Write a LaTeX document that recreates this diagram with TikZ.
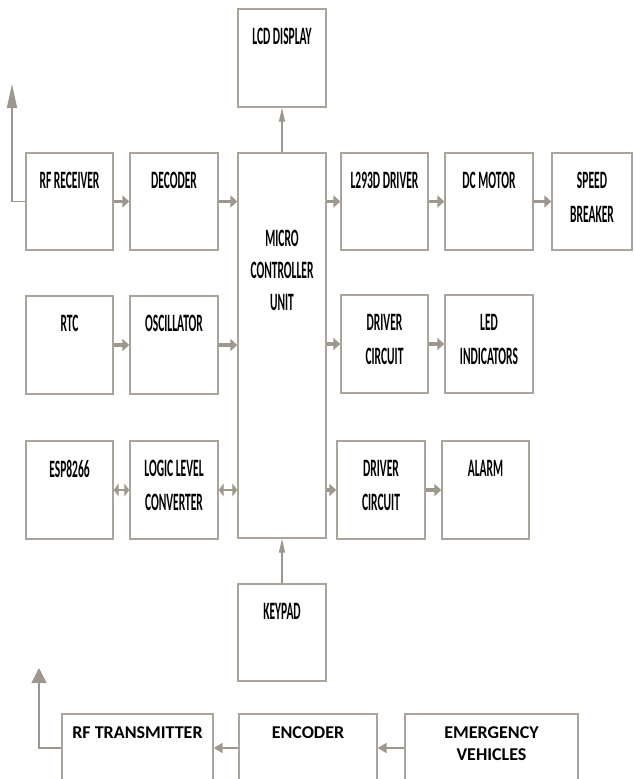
\documentclass[tikz,border=0pt]{standalone}
\usepackage{fontspec}
\setmainfont{Carlito}
\newfontfamily\condf[FakeStretch=0.46]{Carlito}
\usetikzlibrary{arrows.meta,calc}
\definecolor{boxc}{RGB}{170,164,154}
\definecolor{arrc}{RGB}{158,151,141}
\newcommand\boxlbl[4]{\node[#1] (#2t) at ($(#2.north)+(0,#3)$) {#4};}
\begin{document}
\begin{tikzpicture}[x=1pt,y=-1pt,
  blk/.style={draw=boxc, line width=1.4pt, fill=white, inner sep=0pt},
  ctxt/.style={font=\condf\bfseries\fontsize{25}{34}\selectfont, align=center, anchor=north, inner sep=0pt},
  mtxt/.style={font=\condf\bfseries\fontsize{25}{32}\selectfont, align=center, anchor=north, inner sep=0pt},
  ntxt/.style={font=\bfseries\fontsize{18}{22}\selectfont, align=center, anchor=north, inner sep=0pt},
  fat/.style={draw=arrc, line width=3.2pt, -{Triangle[length=7pt,width=12pt]}},
  dbl/.style={draw=arrc, line width=1.9pt, {Triangle[length=5pt,width=13pt]}-{Triangle[length=5pt,width=13pt]}},
  thinup/.style={draw=arrc, line width=1.3pt, -{Triangle[length=14pt,width=6pt]}},
  botar/.style={draw=arrc, line width=2.2pt, -{Triangle[length=9pt,width=10pt]}},
  antone/.style={draw=arrc, line width=1.5pt, -{Triangle[length=24pt,width=10pt]}},
  anttwo/.style={draw=arrc, line width=1.5pt, -{Triangle[length=15pt,width=15pt]}}
]
\useasboundingbox (0,0) rectangle (633,779);
% boxes
\node[blk, minimum width=88pt, minimum height=98pt] (lcd) at (282,58) {};
\node[blk, minimum width=87pt, minimum height=97pt] (rfr) at (69.5,201.5) {};
\node[blk, minimum width=88pt, minimum height=97pt] (dec) at (174,201.5) {};
\node[blk, minimum width=88pt, minimum height=385pt] (mcu) at (282,345.5) {};
\node[blk, minimum width=87pt, minimum height=97pt] (l293) at (384.5,201.5) {};
\node[blk, minimum width=88pt, minimum height=97pt] (dcm) at (489,201.5) {};
\node[blk, minimum width=80pt, minimum height=97pt] (spd) at (592,201.5) {};
\node[blk, minimum width=87pt, minimum height=98pt] (rtc) at (69.5,345) {};
\node[blk, minimum width=88pt, minimum height=98pt] (osc) at (174,345) {};
\node[blk, minimum width=87pt, minimum height=98pt] (drvone) at (384.5,344) {};
\node[blk, minimum width=88pt, minimum height=98pt] (led) at (489,344) {};
\node[blk, minimum width=87pt, minimum height=98pt] (esp) at (69.5,490) {};
\node[blk, minimum width=88pt, minimum height=98pt] (llc) at (174,490) {};
\node[blk, minimum width=88pt, minimum height=98pt] (drvtwo) at (381,490) {};
\node[blk, minimum width=87pt, minimum height=98pt] (alarm) at (485.5,490) {};
\node[blk, minimum width=88pt, minimum height=97pt] (key) at (282,632.5) {};
\node[blk, minimum width=151pt, minimum height=68pt] (rftx) at (137.5,748) {};
\node[blk, minimum width=138pt, minimum height=68pt] (enc) at (308,748) {};
\node[blk, minimum width=173pt, minimum height=68pt] (emv) at (491.5,748) {};
% labels
\boxlbl{ctxt}{lcd}{20}{LCD DISPLAY}
\boxlbl{ctxt}{rfr}{20}{RF RECEIVER}
\boxlbl{ctxt}{dec}{20}{DECODER}
\boxlbl{mtxt}{mcu}{78}{MICRO\\CONTROLLER\\UNIT}
\boxlbl{ctxt}{l293}{20}{L293D DRIVER}
\boxlbl{ctxt}{dcm}{20}{DC MOTOR}
\boxlbl{ctxt}{spd}{20}{SPEED\\BREAKER}
\boxlbl{ctxt}{rtc}{20}{RTC}
\boxlbl{ctxt}{osc}{20}{OSCILLATOR}
\boxlbl{ctxt}{drvone}{20}{DRIVER\\CIRCUIT}
\boxlbl{ctxt}{led}{20}{LED\\INDICATORS}
\boxlbl{ctxt}{esp}{20}{ESP8266}
\boxlbl{ctxt}{llc}{20}{LOGIC LEVEL\\CONVERTER}
\boxlbl{ctxt}{drvtwo}{20}{DRIVER\\CIRCUIT}
\boxlbl{ctxt}{alarm}{20}{ALARM}
\boxlbl{ctxt}{key}{20}{KEYPAD}
\boxlbl{ntxt}{rftx}{13}{RF TRANSMITTER}
\boxlbl{ntxt}{enc}{13}{ENCODER}
\boxlbl{ntxt}{emv}{13}{EMERGENCY\\VEHICLES}
% connectors
\draw[fat] (rfr.east) -- (dec.west);
\draw[fat] (dec.east) -- (dec.east -| mcu.west);
\draw[fat] (l293.west -| mcu.east) -- (l293.west);
\draw[fat] (l293.east) -- (dcm.west);
\draw[fat] (dcm.east) -- (spd.west);
\draw[fat] (rtc.east) -- (osc.west);
\draw[fat] (osc.east) -- (osc.east -| mcu.west);
\draw[fat] (drvone.west -| mcu.east) -- (drvone.west);
\draw[fat] (drvone.east) -- (led.west);
\draw[dbl] (esp.east) -- (llc.west);
\draw[dbl] (llc.east) -- (llc.east -| mcu.west);
\draw[fat] (drvtwo.west -| mcu.east) -- (drvtwo.west);
\draw[fat] (drvtwo.east) -- (alarm.west);
\draw[thinup] (mcu.north) -- (lcd.south);
\draw[thinup] (key.north) -- (mcu.south);
\draw[botar] (emv.west) -- (enc.east);
\draw[botar] (enc.west) -- (rftx.east);
\coordinate (aone) at (12,84);
\draw[antone] (rfr.west) -| (aone);
\coordinate (atwo) at (39,668);
\draw[anttwo] (rftx.west) -| (atwo);
\end{tikzpicture}
\end{document}
